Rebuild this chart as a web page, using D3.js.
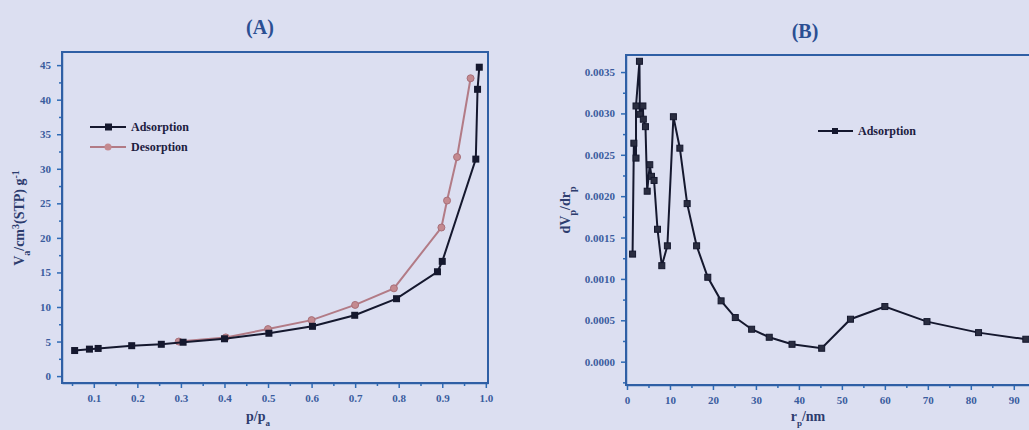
<!DOCTYPE html>
<html lang="en">
<head>
<meta charset="utf-8">
<title>Isotherm and pore size distribution</title>
<script src="https://cdn.jsdelivr.net/npm/d3@7"></script>
<style>
    body { margin: 0; background: #dcdff1; }
    svg { display: block; font-family: "Liberation Serif", "DejaVu Serif", serif; font-weight: bold; }
    .tick text { fill: #3a5c9e; font-weight: bold; }
    .axis path, .axis line { stroke: #2f6bb5; stroke-width: 1.5; }
    .frame { fill: none; stroke: #2f5fa5; stroke-width: 2; }
    .title { fill: #2b4f93; font-size: 20px; }
    .lbl { fill: #2d3c6e; font-size: 14px; }
    .legend { fill: #1c2040; font-size: 12px; }
</style>
</head>
<body>
<svg width="1029" height="430"></svg>
<script>
// (A) nitrogen isotherm
var adsP = [0.056, 0.09, 0.11, 0.187, 0.255, 0.305, 0.40, 0.502, 0.602, 0.699, 0.795, 0.889, 0.90, 0.977, 0.981, 0.985];
var adsV = [3.7, 3.9, 4.0, 4.4, 4.6, 4.9, 5.4, 6.2, 7.2, 8.8, 11.2, 15.1, 16.6, 31.4, 41.5, 44.7];
var desP = [0.295, 0.403, 0.50, 0.60, 0.70, 0.789, 0.898, 0.911, 0.934, 0.965];
var desV = [5.0, 5.6, 6.8, 8.1, 10.3, 12.7, 21.5, 25.4, 31.7, 43.1];
var ticksA_x = [0.1, 0.2, 0.3, 0.4, 0.5, 0.6, 0.7, 0.8, 0.9, 1.0];
var ticksA_y = [0, 5, 10, 15, 20, 25, 30, 35, 40, 45];

// (B) pore size distribution
var poreR = [1.3, 1.6, 2.1, 2.1, 2.9, 3.0, 3.7, 3.8, 4.3, 4.7, 5.3, 5.7, 6.3, 7.1, 8.1, 9.4, 10.8, 12.3, 14.0, 16.2, 18.8, 21.9, 25.2, 29.0, 33.1, 38.4, 45.3, 52.0, 60.0, 69.8, 81.8, 92.8];
var poreDV = [0.0013, 0.00264, 0.00246, 0.00309, 0.00363, 0.00299, 0.00309, 0.00293, 0.00284, 0.00206, 0.00238, 0.00224, 0.00219, 0.0016, 0.00116, 0.0014, 0.00296, 0.00258, 0.00191, 0.0014, 0.00102, 0.000735, 0.000533, 0.000392, 0.000295, 0.00021, 0.000162, 0.000513, 0.000666, 0.000484, 0.000351, 0.000271];
var ticksB_x = [0, 10, 20, 30, 40, 50, 60, 70, 80, 90];
var ticksB_y = [0, 0.0005, 0.001, 0.0015, 0.002, 0.0025, 0.003, 0.0035];

var svg = d3.select("svg");

function zip(a, b) { return a.map(function (v, i) { return [v, b[i]]; }); }

function drawAxes(x, y, xt, yt, xMinor, yMinor, yFmt) {
    var r = x.range(), h = y.range();
    // minor ticks
    svg.append("g").attr("class", "axis")
        .attr("transform", "translate(0," + h[0] + ")")
        .call(d3.axisBottom(x).tickValues(xMinor).tickSize(3).tickFormat(""))
        .select(".domain").remove();
    svg.append("g").attr("class", "axis")
        .attr("transform", "translate(" + r[0] + ",0)")
        .call(d3.axisLeft(y).tickValues(yMinor).tickSize(3).tickFormat(""))
        .select(".domain").remove();
    svg.append("g").attr("class", "axis")
        .attr("transform", "translate(0," + h[0] + ")")
        .call(d3.axisBottom(x).tickValues(xt).tickSize(5).tickPadding(6).tickSizeOuter(0))
        .attr("font-family", "Liberation Serif").attr("font-size", 11);
    svg.append("g").attr("class", "axis")
        .attr("transform", "translate(" + r[0] + ",0)")
        .call(d3.axisLeft(y).tickValues(yt).tickSize(5).tickPadding(6).tickSizeOuter(0).tickFormat(yFmt))
        .attr("font-family", "Liberation Serif").attr("font-size", 11);
    svg.append("rect").attr("class", "frame")
        .attr("x", r[0]).attr("y", h[1])
        .attr("width", r[1] - r[0]).attr("height", h[0] - h[1]);
}

// ---------- chart A ----------
var xA = d3.scaleLinear().domain([0.027, 1.005]).range([62, 488]);
var yA = d3.scaleLinear().domain([-1.0, 46.9]).range([383, 52]);
drawAxes(xA, yA, ticksA_x, ticksA_y,
    d3.range(0.05, 1.0, 0.1), d3.range(2.5, 46, 5), d3.format("d"));

var lineA = d3.line().x(function (d) { return xA(d[0]); }).y(function (d) { return yA(d[1]); });

svg.append("path").datum(zip(desP, desV))
    .attr("d", lineA).attr("fill", "none")
    .attr("stroke", "#b27b86").attr("stroke-width", 2);
svg.append("g").selectAll("circle").data(zip(desP, desV)).enter().append("circle")
    .attr("cx", function (d) { return xA(d[0]); })
    .attr("cy", function (d) { return yA(d[1]); })
    .attr("r", 3.5).attr("fill", "#c48a90").attr("stroke", "#a8707a");

svg.append("path").datum(zip(adsP, adsV))
    .attr("d", lineA).attr("fill", "none")
    .attr("stroke", "#15182e").attr("stroke-width", 2);
svg.append("g").selectAll("rect").data(zip(adsP, adsV)).enter().append("rect")
    .attr("x", function (d) { return xA(d[0]) - 3.5; })
    .attr("y", function (d) { return yA(d[1]) - 3.5; })
    .attr("width", 7).attr("height", 7).attr("fill", "#15182e");

svg.append("text").attr("class", "title").attr("x", 260).attr("y", 34)
    .attr("text-anchor", "middle").text("(A)");

var xlA = svg.append("text").attr("class", "lbl").attr("x", 258).attr("y", 421).attr("text-anchor", "middle");
xlA.append("tspan").text("p/p");
xlA.append("tspan").attr("baseline-shift", "sub").attr("font-size", "9px").text("a");

var ylA = svg.append("text").attr("class", "lbl").attr("text-anchor", "middle")
    .attr("transform", "translate(24,218) rotate(-90)");
ylA.append("tspan").text("V");
ylA.append("tspan").attr("baseline-shift", "sub").attr("font-size", "10px").text("a");
ylA.append("tspan").text("/cm");
ylA.append("tspan").attr("baseline-shift", "super").attr("font-size", "10px").text("3");
ylA.append("tspan").text("(STP) g");
ylA.append("tspan").attr("baseline-shift", "super").attr("font-size", "10px").text("-1");

// legend A
var legA = [["Adsorption", "#15182e", "rect"], ["Desorption", "#b27b86", "circle"]];
legA.forEach(function (l, i) {
    var ly = 127 + i * 20;
    svg.append("line").attr("x1", 90).attr("x2", 126).attr("y1", ly).attr("y2", ly)
        .attr("stroke", l[1]).attr("stroke-width", 2);
    if (l[2] === "rect") {
        svg.append("rect").attr("x", 105).attr("y", ly - 3.5).attr("width", 7).attr("height", 7).attr("fill", l[1]);
    } else {
        svg.append("circle").attr("cx", 108).attr("cy", ly).attr("r", 3.5).attr("fill", "#c48a90");
    }
    svg.append("text").attr("class", "legend").attr("x", 131).attr("y", ly + 4).text(l[0]);
});

// ---------- chart B ----------
var xB = d3.scaleLinear().domain([-0.23, 96.1]).range([626, 1040]);
var yB = d3.scaleLinear().domain([-0.000282, 0.003706]).range([385, 55]);
drawAxes(xB, yB, ticksB_x, ticksB_y,
    d3.range(5, 96, 10), d3.range(-0.00025, 0.0037, 0.0005), d3.format(".4f"));

var lineB = d3.line().x(function (d) { return xB(d[0]); }).y(function (d) { return yB(d[1]); });
svg.append("path").datum(zip(poreR, poreDV))
    .attr("d", lineB).attr("fill", "none")
    .attr("stroke", "#15182e").attr("stroke-width", 2);
svg.append("g").selectAll("rect").data(zip(poreR, poreDV)).enter().append("rect")
    .attr("x", function (d) { return xB(d[0]) - 3; })
    .attr("y", function (d) { return yB(d[1]) - 3; })
    .attr("width", 6).attr("height", 6)
    .attr("fill", "#2a2d40").attr("stroke", "#15182e").attr("stroke-width", 1);

svg.append("text").attr("class", "title").attr("x", 805).attr("y", 38)
    .attr("text-anchor", "middle").text("(B)");

var xlB = svg.append("text").attr("class", "lbl").attr("x", 808).attr("y", 421).attr("text-anchor", "middle");
xlB.append("tspan").text("r");
xlB.append("tspan").attr("baseline-shift", "sub").attr("font-size", "9px").text("p");
xlB.append("tspan").text("/nm");

var ylB = svg.append("text").attr("class", "lbl").attr("text-anchor", "middle")
    .attr("transform", "translate(570,210) rotate(-90)");
ylB.append("tspan").text("dV");
ylB.append("tspan").attr("baseline-shift", "sub").attr("font-size", "10px").text("p");
ylB.append("tspan").text("/dr");
ylB.append("tspan").attr("baseline-shift", "sub").attr("font-size", "10px").text("p");

// legend B
svg.append("line").attr("x1", 818).attr("x2", 853).attr("y1", 131).attr("y2", 131)
    .attr("stroke", "#15182e").attr("stroke-width", 2);
svg.append("rect").attr("x", 832).attr("y", 128).attr("width", 6).attr("height", 6).attr("fill", "#15182e");
svg.append("text").attr("class", "legend").attr("x", 858).attr("y", 135).text("Adsorption");
</script>
</body>
</html>
